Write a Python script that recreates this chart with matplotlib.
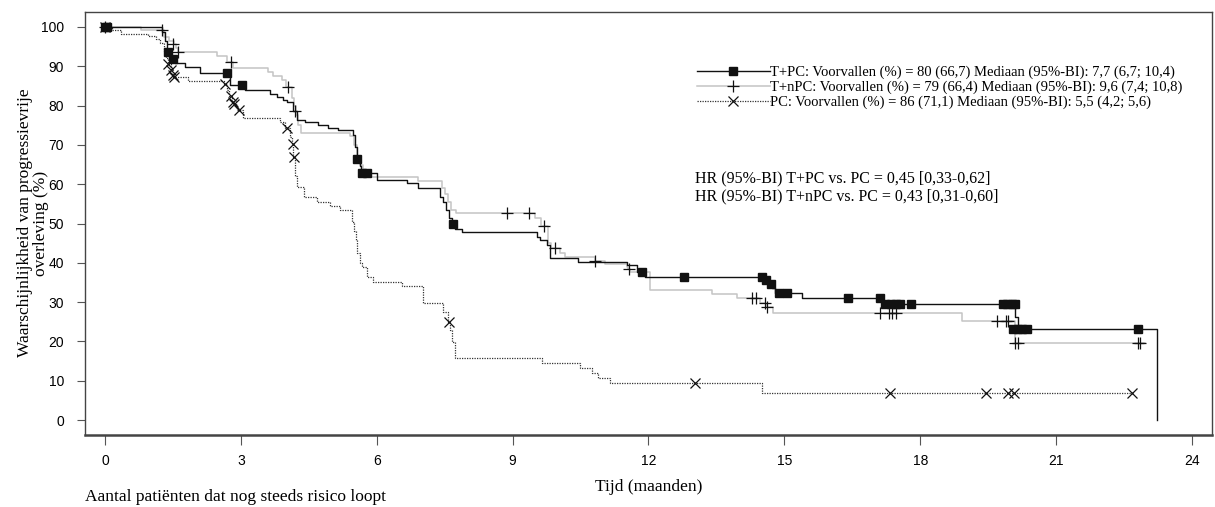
import matplotlib
matplotlib.use('Agg')
import matplotlib.pyplot as plt
from matplotlib.lines import Line2D

plt.rcParams['font.family'] = ['Liberation Serif', 'DejaVu Serif']

# T+PC (zwart)
tpc_t = [0, 1.27, 1.32, 1.37, 1.40, 1.45, 1.50, 1.55, 1.77, 2.10, 2.76, 3.09, 3.64, 3.80, 3.93,
         4.02, 4.15, 4.24, 4.42, 4.70, 4.92, 5.14, 5.47, 5.52, 5.56, 5.62, 5.65, 6.00, 6.67, 6.91,
         7.40, 7.46, 7.53, 7.59, 7.66, 7.72, 7.88, 9.54, 9.60, 9.76, 9.82, 10.44, 11.52, 11.75, 11.92,
         14.50, 14.62, 14.72, 14.79, 15.39, 17.15, 20.09, 20.15, 23.22]
tpc_s = [100, 98.8, 96.5, 94.5, 93.6, 92.5, 91.9, 90.8, 89.8, 88.3, 85.2, 84.0, 83.0, 82.2, 81.4,
         80.9, 78.5, 76.3, 75.8, 75.1, 74.3, 73.8, 72.5, 69.5, 66.4, 64.5, 62.8, 61.1, 60.3, 59.0,
         56.7, 55.5, 53.4, 51.5, 49.9, 48.6, 47.8, 46.6, 45.8, 44.5, 41.2, 40.2, 39.4, 37.7, 36.4,
         35.6, 34.6, 33.5, 32.3, 31.0, 29.5, 26.2, 23.2, 0]
tpc_ct = [0, 0.05, 1.39, 1.50, 2.69, 3.02, 5.56, 5.67, 5.78, 7.68, 11.85, 12.78, 14.50, 14.60, 14.70,
          14.88, 15.06, 16.40, 17.10, 17.22, 17.35, 17.47, 17.55, 17.80, 19.82, 19.92, 20.02, 20.09,
          20.05, 20.15, 20.25, 20.35, 22.80]
tpc_cs = [100, 100, 93.6, 91.9, 88.3, 85.2, 66.4, 62.8, 62.8, 49.9, 37.7, 36.4, 36.4, 35.6, 34.6,
          32.3, 32.3, 31.0, 31.0, 29.5, 29.5, 29.5, 29.5, 29.5, 29.5, 29.5, 29.5, 29.5,
          23.2, 23.2, 23.2, 23.2, 23.2]

# T+nPC (lichtgrijs)
tnpc_t = [0, 0.80, 1.30, 1.42, 1.52, 1.56, 1.62, 2.47, 2.69, 2.82, 3.60, 3.71, 3.91, 4.00, 4.12,
          4.17, 4.22, 4.27, 4.32, 5.40, 5.50, 5.56, 5.62, 5.70, 5.85, 6.91, 7.44, 7.51, 7.58, 7.65,
          7.75, 9.50, 9.62, 9.78, 9.85, 10.04, 10.15, 10.82, 11.04, 11.52, 11.55, 11.60, 12.03, 13.40,
          13.95, 14.47, 14.60, 14.75, 18.92, 20.09, 22.95]
tnpc_s = [100, 99.2, 97.5, 96.3, 95.6, 94.6, 93.6, 92.6, 91.1, 89.6, 88.5, 87.5, 86.5, 84.7, 82.0,
          79.8, 77.5, 75.0, 73.0, 72.3, 70.0, 67.0, 65.0, 63.5, 61.8, 60.8, 59.0, 57.5, 55.5, 53.4,
          52.6, 51.4, 49.4, 45.0, 43.8, 42.5, 41.5, 40.5, 39.7, 39.0, 38.4, 37.7, 33.2, 32.0,
          31.0, 29.8, 28.8, 27.2, 25.2, 19.6, 19.6]
tnpc_ct = [0, 1.26, 1.50, 1.62, 2.78, 4.04, 4.19, 8.87, 9.36, 9.69, 9.93, 10.82, 11.57, 14.28, 14.37,
           14.57, 14.62, 17.10, 17.30, 17.37, 17.46, 19.70, 19.89, 19.93, 20.10, 20.15, 22.80, 22.85]
tnpc_cs = [100, 99.2, 95.6, 93.6, 91.1, 84.7, 78.6, 52.6, 52.6, 49.4, 43.8, 40.5, 38.4, 31.0, 31.0,
           29.8, 28.8, 27.2, 27.2, 27.2, 27.2, 25.2, 25.2, 25.2, 19.6, 19.6, 19.6, 19.6]

# PC (gestippeld)
pc_t = [0, 0.15, 0.35, 0.95, 1.12, 1.22, 1.30, 1.35, 1.40, 1.45, 1.50, 1.83, 2.62, 2.70, 2.75,
        2.80, 2.85, 2.92, 3.05, 3.86, 3.98, 4.08, 4.13, 4.16, 4.20, 4.25, 4.40, 4.68, 4.97, 5.19,
        5.45, 5.50, 5.54, 5.56, 5.63, 5.67, 5.78, 5.92, 6.56, 7.02, 7.46, 7.57, 7.62, 7.66, 7.72,
        9.65, 10.49, 10.75, 10.88, 11.15, 14.50, 22.67]
pc_s = [100, 99.2, 98.2, 97.7, 96.9, 96.0, 94.0, 92.0, 90.5, 89.0, 87.3, 86.3, 85.4, 84.0, 82.4,
        81.0, 80.4, 78.9, 76.8, 75.8, 74.3, 72.0, 70.2, 66.9, 62.0, 59.3, 56.7, 55.5, 54.4, 53.4,
        50.4, 48.0, 45.8, 42.5, 40.0, 39.0, 36.4, 35.1, 34.1, 29.8, 27.5, 24.9, 23.0, 19.8, 15.8,
        14.5, 13.2, 12.0, 10.7, 9.5, 6.9, 6.9]
pc_ct = [0, 1.40, 1.45, 1.50, 1.52, 2.65, 2.78, 2.82, 2.86, 2.96, 4.02, 4.15, 4.17, 7.59, 13.02,
         17.33, 19.45, 19.93, 20.07, 22.67]
pc_cs = [100, 90.5, 89.0, 87.8, 87.3, 85.4, 82.4, 81.0, 80.4, 78.9, 74.3, 70.2, 66.9, 24.9, 9.5,
         6.9, 6.9, 6.9, 6.9, 6.9]

labels = ['T+PC: Voorvallen (%) = 80 (66,7) Mediaan (95%-BI): 7,7 (6,7; 10,4)',
          'T+nPC: Voorvallen (%) = 79 (66,4) Mediaan (95%-BI): 9,6 (7,4; 10,8)',
          'PC: Voorvallen (%) = 86 (71,1) Mediaan (95%-BI): 5,5 (4,2; 5,6)']
hr_lines = ['HR (95%-BI) T+PC vs. PC = 0,45 [0,33-0,62]',
            'HR (95%-BI) T+nPC vs. PC = 0,43 [0,31-0,60]']
xticks = [0, 3, 6, 9, 12, 15, 18, 21, 24]
yticks = [0, 10, 20, 30, 40, 50, 60, 70, 80, 90, 100]

W, H = 1215, 507
fig = plt.figure(figsize=(W / 100, H / 100), dpi=100)
ax = fig.add_axes([85 / W, 1 - 435 / H, (1212 - 85) / W, (435 - 12) / H])

black = '#111111'
grey = '#c4c4c4'

ax.step(tnpc_t, tnpc_s, where='post', color=grey, lw=1.1, zorder=2)
ax.step(tpc_t, tpc_s, where='post', color=black, lw=1.0, zorder=3)
ax.step(pc_t, pc_s, where='post', color='#333333', lw=0.9, ls=(0, (1, 1)), zorder=2)

ax.plot(tnpc_ct, tnpc_cs, ls='none', marker='+', ms=8, mew=0.9, color=black, zorder=4)
ax.plot(tpc_ct, tpc_cs, ls='none', marker='s', ms=5.5, color=black, zorder=4)
ax.plot(pc_ct, pc_cs, ls='none', marker='x', ms=7, mew=0.9, color=black, zorder=4)

ax.set_xlim(-0.44, 24.44)
ax.set_ylim(-3.8, 103.8)
ax.set_xticks(xticks)
ax.set_yticks(yticks)
for lab in ax.get_xticklabels() + ax.get_yticklabels():
    lab.set_family(['Liberation Sans', 'DejaVu Sans'])
    lab.set_fontsize(10)
ax.tick_params(axis='y', length=6, width=0.8, color='#555555', pad=9)
ax.tick_params(axis='x', length=7, width=0.8, color='#555555', pad=7)
for side, sp in ax.spines.items():
    sp.set_color('#444444')
    sp.set_linewidth(1.0)
ax.spines['bottom'].set_linewidth(1.8)

handles = [
    Line2D([], [], color=black, lw=1.0, marker='s', ms=5.5, mfc=black, mec=black),
    Line2D([], [], color=grey, lw=1.1, marker='+', ms=8, mew=0.9, mec=black),
    Line2D([], [], color='#333333', lw=0.9, ls=(0, (1, 1)), marker='x', ms=7, mew=0.9, mec=black),
]
fig.legend(handles, labels, loc='upper left', bbox_to_anchor=(697 / W, 1 - 66 / H),
           frameon=False, fontsize=10.5, handlelength=5.0, handletextpad=0.0,
           labelspacing=0.08, borderpad=0, borderaxespad=0, numpoints=1)

fig.text(695 / W, 1 - 178 / H, hr_lines[0], fontsize=11.5, ha='left', va='center')
fig.text(695 / W, 1 - 196 / H, hr_lines[1], fontsize=11.5, ha='left', va='center')

fig.text(33 / W, 1 - 223 / H, 'Waarschijnlijkheid van progressievrije\noverleving (%)',
         rotation=90, ha='center', va='center', multialignment='center',
         fontsize=12.5, linespacing=1.05)
fig.text(649 / W, 1 - 487 / H, 'Tijd (maanden)', ha='center', va='center', fontsize=12.5)
fig.text(85 / W, 1 - 497 / H, 'Aantal patiënten dat nog steeds risico loopt',
         ha='left', va='center', fontsize=12.5)

fig.savefig('out.png', dpi=100)
plt.close(fig)
